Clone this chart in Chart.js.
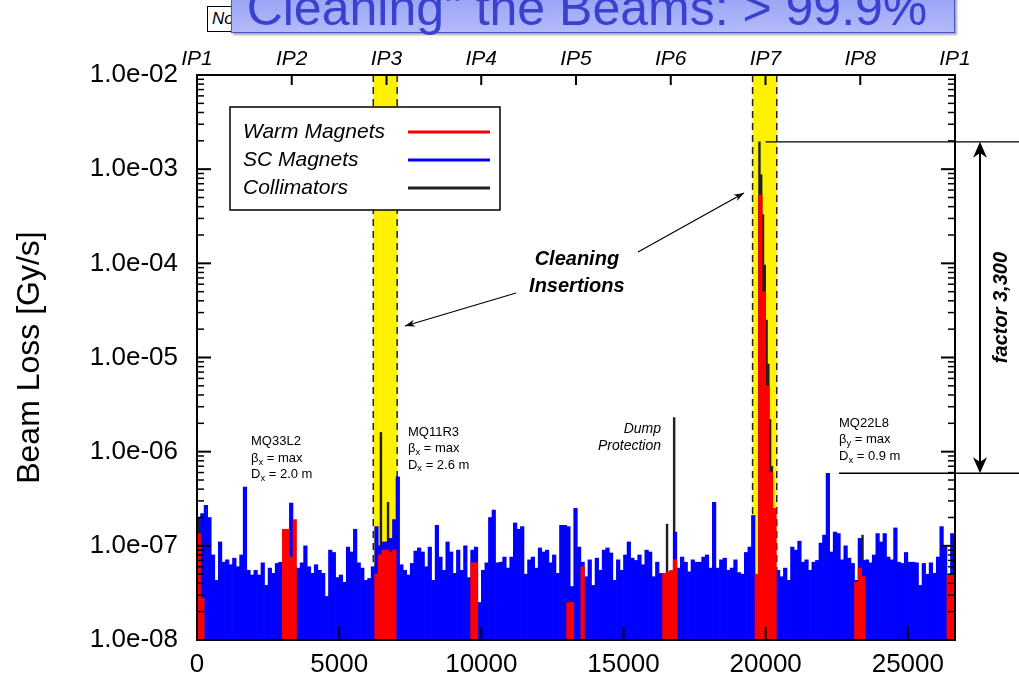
<!DOCTYPE html>
<html lang="en">
<head>
<meta charset="UTF-8">
<title>Beam Loss around the ring</title>
<script src="https://cdn.jsdelivr.net/npm/chart.js"></script>
<style>
    body {
        margin: 0;
        background: #fff;
        font-family: "Liberation Sans", Arial, sans-serif;
    }
    .page {
        position: relative;
        width: 1019px;
        height: 685px;
        overflow: hidden;
    }
    .chart-box {
        position: absolute;
        left: 0;
        top: 0;
        width: 1019px;
        height: 685px;
    }
    .note-box {
        position: absolute;
        left: 207px;
        top: 6px;
        width: 748px;
        height: 26px;
        box-sizing: border-box;
        border: 1px solid #000;
        background: #fff;
        font-style: italic;
        font-size: 17px;
        line-height: 24px;
        padding-left: 4px;
    }
    .title-box {
        position: absolute;
        left: 231px;
        top: -19px;
        width: 724px;
        height: 52px;
        box-sizing: border-box;
        border: 1px solid #4a54c8;
        background: linear-gradient(#8e99f3, #b3bbfa);
        box-shadow: 2px 2px 2px rgba(0, 0, 0, 0.35);
        color: #3b40cf;
        font-size: 50px;
        line-height: 52px;
        text-align: center;
        padding-right: 12px;
        white-space: nowrap;
    }
</style>
</head>
<body>
<div class="page">
    <div class="chart-box"><canvas id="lossChart"></canvas></div>
    <div class="note-box">No</div>
    <div class="title-box">Cleaning" the Beams: &gt; 99.9%</div>
</div>

<script>
    const FONT = "'Liberation Sans', Arial, Helvetica, sans-serif";

    const RING = 26659;       // ring circumference [m]
    const BIN = 125;          // magnet histogram bin [m]
    const COLL_BIN = 62.5;    // collimator histogram bin [m]

    const xTickValues = [0, 5000, 10000, 15000, 20000, 25000];
    const ipLabels = ['IP1', 'IP2', 'IP3', 'IP4', 'IP5', 'IP6', 'IP7', 'IP8', 'IP1'];
    const ipPositions = [0, 3332, 6665, 9997, 13330, 16662, 19994, 23327, 26659];
    const yTickValues = [1e-8, 1e-7, 1e-6, 1e-5, 1e-4, 1e-3, 1e-2];

    // cleaning insertions (IP3, IP7) [m]
    const bands = [[6200, 7040], [19540, 20390]];

    // SC magnets, one value per 125 m bin from s = 0 [Gy/s]
    const scLoss = [
        1.2e-7, 2.2e-7, 2.7e-7, 2.0e-7, 8.0e-8, 4.3e-8, 1.1e-7, 6.7e-8, 7.1e-8, 6.3e-8,
        7.4e-8, 6.0e-8, 8.0e-8, 4.2e-7, 5.5e-8, 4.9e-8, 5.5e-8, 4.9e-8, 6.6e-8, 3.8e-8,
        5.8e-8, 5.1e-8, 6.5e-8, 6.7e-8, 7.1e-8, 7.0e-8, 2.85e-7, 6.0e-8, 5.8e-8, 6.6e-8,
        1.0e-7, 6.0e-8, 5.1e-8, 6.3e-8, 5.5e-8, 5.1e-8, 2.9e-8, 9.0e-8, 8.5e-8, 4.6e-8,
        4.9e-8, 4.1e-8, 9.7e-8, 8.6e-8, 1.5e-7, 6.6e-8, 5.8e-8, 4.3e-8, 4.5e-8, 6.0e-8,
        1.6e-7, 1.0e-7, 1.1e-7, 1.1e-7, 1.2e-7, 1.9e-7, 5.4e-7, 6.3e-8, 5.5e-8, 4.9e-8,
        6.5e-8, 8.8e-8, 9.5e-8, 8.6e-8, 6.0e-8, 9.7e-8, 4.3e-8, 1.65e-7, 7.6e-8, 5.5e-8,
        1.1e-7, 8.6e-8, 5.1e-8, 9.0e-8, 5.5e-8, 1.0e-7, 4.6e-8, 9.0e-8, 9.7e-8, 2.5e-8,
        5.5e-8, 6.6e-8, 2.0e-7, 2.4e-7, 6.6e-8, 6.7e-8, 7.6e-8, 5.8e-8, 7.6e-8, 1.75e-7,
        1.5e-7, 1.6e-7, 5.0e-8, 7.1e-8, 7.6e-8, 5.8e-8, 9.5e-8, 8.6e-8, 9.0e-8, 6.6e-8,
        8.0e-8, 5.1e-8, 1.65e-7, 1.65e-7, 1.6e-7, 3.7e-8, 2.5e-7, 9.7e-8, 6.7e-8, 4.7e-8,
        7.1e-8, 3.8e-8, 7.4e-8, 5.5e-8, 9.0e-8, 9.5e-8, 8.4e-8, 4.3e-8, 7.1e-8, 5.5e-8,
        8.0e-8, 1.1e-7, 7.4e-8, 7.0e-8, 8.0e-8, 6.3e-8, 9.0e-8, 8.6e-8, 4.7e-8, 6.7e-8,
        5.1e-8, 5.0e-8, 5.0e-8, 5.0e-8, 1.4e-7, 5.8e-8, 7.6e-8, 6.7e-8, 5.3e-8, 7.1e-8,
        6.7e-8, 6.7e-8, 7.6e-8, 8.0e-8, 5.8e-8, 2.9e-7, 5.8e-8, 7.1e-8, 7.4e-8, 5.5e-8,
        5.8e-8, 7.1e-8, 5.2e-8, 5.0e-8, 8.5e-8, 9.7e-8, 2.1e-7, 3.0e-8, 3.0e-8, 3.0e-8,
        3.0e-8, 3.0e-8, 3.0e-8, 5.5e-8, 4.7e-8, 5.8e-8, 4.3e-8, 9.7e-8, 9.0e-8, 1.12e-7,
        6.7e-8, 7.1e-8, 5.5e-8, 6.7e-8, 7.0e-8, 1.07e-7, 1.3e-7, 5.9e-7, 8.6e-8, 1.4e-7,
        1.35e-7, 7.1e-8, 1.0e-7, 7.4e-8, 6.5e-8, 4.3e-8, 1.2e-7, 7.0e-8, 7.1e-8, 6.6e-8,
        8.0e-8, 1.35e-7, 1.1e-7, 1.35e-7, 7.6e-8, 7.1e-8, 1.55e-7, 6.7e-8, 6.5e-8, 8.5e-8,
        6.7e-8, 6.7e-8, 6.6e-8, 3.8e-8, 6.5e-8, 5.0e-8, 6.6e-8, 5.1e-8, 7.6e-8, 1.6e-7,
        1.0e-7, 5.0e-8, 1.35e-7
    ];

    // warm magnets: bin index (125 m) and loss [Gy/s]
    const warmBins = [0, 1, 24, 25, 26, 27, 50, 51, 52, 53, 54, 55, 77, 78, 104, 105,
        108, 131, 132, 133, 134, 157, 158, 159, 160, 161, 162, 185, 186, 187, 211, 212];
    const warmLoss = [1.35e-7, 2.8e-8, 1.5e-7, 1.5e-7, 7.6e-8, 1.9e-7, 5e-8, 8e-8, 9e-8, 9e-8,
        8.5e-8, 9e-8, 6.6e-8, 6.6e-8, 2.5e-8, 2.5e-8, 6e-8, 5.1e-8, 5.3e-8, 5.5e-8, 7.1e-8,
        5e-8, 5.3e-4, 5e-5, 5e-6, 6e-7, 2.5e-7, 4.1e-8, 5.8e-8, 4.7e-8, 4.9e-8, 4.9e-8];

    // collimators: bin index (62.5 m) and loss [Gy/s]
    const collBins = [0, 1, 2, 103, 107, 264, 268, 316, 317, 318, 319, 320, 321, 322, 323, 374];
    const collLoss = [2.0e-7, 2.0e-7, 1.5e-7, 1.6e-6, 2.9e-7, 1.7e-7, 2.3e-6, 1.95e-3, 8.7e-4,
        3.3e-4, 9.6e-5, 2.5e-5, 8.5e-6, 2.2e-6, 7e-7, 1.3e-7];

    // peak in IP7 and highest magnet loss outside the insertions
    const factorLevels = [1.95e-3, 5.9e-7];

    // text notes: position s [m], loss [Gy/s]; odd pieces are subscripts
    const magnetNotes = [
        { s: 1900, v: 1.27e-6, lines: [['MQ33L2'], ['β', 'x', ' = max'], ['D', 'x', ' = 2.0 m']] },
        { s: 7420, v: 1.62e-6, lines: [['MQ11R3'], ['β', 'x', ' = max'], ['D', 'x', ' = 2.6 m']] },
        { s: 22580, v: 2.0e-6, lines: [['MQ22L8'], ['β', 'y', ' = max'], ['D', 'x', ' = 0.9 m']] }
    ];

    function formatExp(v) {
        const e = Math.round(Math.log10(v));
        return '1.0e' + (e < 0 ? '-' : '+') + String(Math.abs(e)).padStart(2, '0');
    }

    function line(ctx, x0, y0, x1, y1) {
        ctx.beginPath();
        ctx.moveTo(x0, y0);
        ctx.lineTo(x1, y1);
        ctx.stroke();
    }

    function arrowHead(ctx, x0, y0, x1, y1, len, half) {
        const a = Math.atan2(y1 - y0, x1 - x0);
        const c = Math.cos(a), s = Math.sin(a);
        ctx.beginPath();
        ctx.moveTo(x1, y1);
        ctx.lineTo(x1 - len * c + half * s, y1 - len * s - half * c);
        ctx.lineTo(x1 - len * 0.7 * c, y1 - len * 0.7 * s);
        ctx.lineTo(x1 - len * c - half * s, y1 - len * s + half * c);
        ctx.closePath();
        ctx.fill();
    }

    function drawRuns(ctx, runs, x, y, size) {
        let cx = x;
        runs.forEach((t, k) => {
            const sub = k % 2 === 1;
            ctx.font = (sub ? size * 0.72 : size) + 'px ' + FONT;
            ctx.fillText(t, cx, y + (sub ? size * 0.28 : 0));
            cx += ctx.measureText(t).width;
        });
    }

    const decorations = {
        id: 'decorations',
        beforeDatasetsDraw(chart) {
            const { ctx, chartArea: a, scales: { x } } = chart;
            ctx.save();
            bands.forEach(([s0, s1]) => {
                const x0 = x.getPixelForValue(s0), x1 = x.getPixelForValue(s1);
                ctx.fillStyle = '#fff200';
                ctx.fillRect(x0, a.top, x1 - x0, a.bottom - a.top);
                ctx.strokeStyle = '#231f20';
                ctx.lineWidth = 1.5;
                ctx.setLineDash([7, 5]);
                line(ctx, x0, a.top, x0, a.bottom);
                line(ctx, x1, a.top, x1, a.bottom);
                ctx.setLineDash([]);
            });
            ctx.restore();
        },
        afterDatasetsDraw(chart) {
            const { ctx, chartArea: a, scales: { x, xTop, y } } = chart;
            ctx.save();
            ctx.strokeStyle = '#000';
            ctx.fillStyle = '#000';

            // frame and inward ticks
            ctx.lineWidth = 2;
            ctx.strokeRect(a.left, a.top, a.right - a.left, a.bottom - a.top);
            xTickValues.forEach(v => {
                const px = x.getPixelForValue(v);
                line(ctx, px, a.bottom, px, a.bottom - 13);
            });
            ipPositions.forEach(v => {
                const px = xTop.getPixelForValue(v);
                line(ctx, px, a.top, px, a.top + 10);
            });
            yTickValues.forEach((v, k) => {
                const py = y.getPixelForValue(v);
                ctx.lineWidth = 2;
                line(ctx, a.left, py, a.left + 14, py);
                line(ctx, a.right, py, a.right - 14, py);
                if (k < yTickValues.length - 1) {
                    ctx.lineWidth = 1.5;
                    for (let m = 2; m <= 9; m++) {
                        const pm = y.getPixelForValue(v * m);
                        line(ctx, a.left, pm, a.left + 7, pm);
                        line(ctx, a.right, pm, a.right - 7, pm);
                    }
                }
            });

            // legend box
            const bx = a.left + 33, by = a.top + 32, bw = 270, bh = 103;
            ctx.fillStyle = '#fff';
            ctx.fillRect(bx, by, bw, bh);
            ctx.lineWidth = 1.5;
            ctx.strokeRect(bx, by, bw, bh);
            ctx.font = 'italic 21px ' + FONT;
            ctx.textAlign = 'left';
            ctx.textBaseline = 'middle';
            chart.data.datasets.forEach((ds, k) => {
                const ry = by + 25 + k * 28;
                ctx.fillStyle = '#000';
                ctx.fillText(ds.label, bx + 13, ry);
                ctx.strokeStyle = ds.backgroundColor;
                ctx.lineWidth = 3;
                line(ctx, bx + 178, ry, bx + 260, ry);
            });

            // magnet notes
            ctx.fillStyle = '#000';
            ctx.strokeStyle = '#000';
            magnetNotes.forEach(n => {
                const nx = x.getPixelForValue(n.s), ny = y.getPixelForValue(n.v);
                n.lines.forEach((runs, k) => drawRuns(ctx, runs, nx, ny + k * 16.5, 13));
            });

            // dump protection
            ctx.font = 'italic 14px ' + FONT;
            ctx.textAlign = 'right';
            const dx = x.getPixelForValue(16320), dy = y.getPixelForValue(1.74e-6);
            ctx.fillText('Dump', dx, dy);
            ctx.fillText('Protection', dx, dy + 17);

            // cleaning insertions with arrows
            ctx.font = 'italic bold 20px ' + FONT;
            ctx.textAlign = 'center';
            const cx = x.getPixelForValue(13360), cy = y.getPixelForValue(1.11e-4);
            ctx.fillText('Cleaning', cx, cy);
            ctx.fillText('Insertions', cx, cy + 27);
            ctx.lineWidth = 1.2;
            [[11220, 4.84e-5, 7315, 2.16e-5], [15510, 1.32e-4, 19238, 5.58e-4]].forEach(([s0, v0, s1, v1]) => {
                const x0 = x.getPixelForValue(s0), y0 = y.getPixelForValue(v0);
                const x1 = x.getPixelForValue(s1), y1 = y.getPixelForValue(v1);
                line(ctx, x0, y0, x1, y1);
                arrowHead(ctx, x0, y0, x1, y1, 10, 3.5);
            });

            // factor between peak and magnet losses
            const yHi = y.getPixelForValue(factorLevels[0]);
            const yLo = y.getPixelForValue(factorLevels[1]);
            ctx.lineWidth = 1.3;
            line(ctx, x.getPixelForValue(20000), yHi, chart.width, yHi);
            line(ctx, x.getPixelForValue(22580), yLo, chart.width, yLo);
            const ax = a.right + 25;
            ctx.lineWidth = 2;
            line(ctx, ax, yHi + 8, ax, yLo - 8);
            arrowHead(ctx, ax, yLo, ax, yHi, 16, 7);
            arrowHead(ctx, ax, yHi, ax, yLo, 16, 7);
            ctx.save();
            ctx.translate(a.right + 46, (yHi + yLo) / 2);
            ctx.rotate(-Math.PI / 2);
            ctx.font = 'italic bold 20px ' + FONT;
            ctx.textAlign = 'center';
            ctx.fillText('factor 3,300', 0, 0);
            ctx.restore();

            ctx.restore();
        }
    };

    const barStyle = {
        type: 'bar',
        grouped: false,
        barPercentage: 1,
        categoryPercentage: 1,
        borderWidth: 0
    };

    Chart.defaults.font.family = FONT;
    Chart.defaults.color = '#000';

    new Chart(document.getElementById('lossChart'), {
        type: 'bar',
        data: {
            datasets: [
                Object.assign({}, barStyle, {
                    label: 'Warm Magnets',
                    data: warmBins.map((b, k) => ({ x: (b + 0.5) * BIN, y: warmLoss[k] })),
                    backgroundColor: '#ff0000',
                    xAxisID: 'x',
                    order: 0
                }),
                Object.assign({}, barStyle, {
                    label: 'SC Magnets',
                    data: scLoss.map((v, i) => ({ x: (i + 0.5) * BIN, y: v })),
                    backgroundColor: '#0000ff',
                    xAxisID: 'x',
                    order: 1
                }),
                Object.assign({}, barStyle, {
                    label: 'Collimators',
                    data: collBins.map((b, k) => ({ x: (b + 0.5) * COLL_BIN, y: collLoss[k] })),
                    backgroundColor: '#231f20',
                    xAxisID: 'xColl',
                    order: 2
                })
            ]
        },
        options: {
            responsive: true,
            maintainAspectRatio: false,
            animation: false,
            events: [],
            layout: { padding: { left: 0, right: 64, top: 0, bottom: 0 } },
            plugins: {
                legend: { display: false },
                tooltip: { enabled: false }
            },
            scales: {
                x: {
                    type: 'linear',
                    position: 'bottom',
                    offset: false,
                    min: 0,
                    max: RING,
                    afterBuildTicks: s => { s.ticks = xTickValues.map(v => ({ value: v })); },
                    afterFit: s => { s.height = 45; },
                    ticks: {
                        font: { size: 26 },
                        color: '#000',
                        padding: 9,
                        maxRotation: 0,
                        autoSkip: false,
                        callback: v => String(v)
                    },
                    grid: { display: false, drawTicks: false, offset: false },
                    border: { display: false }
                },
                xTop: {
                    type: 'linear',
                    position: 'top',
                    offset: false,
                    min: 0,
                    max: RING,
                    afterBuildTicks: s => { s.ticks = ipPositions.map(v => ({ value: v })); },
                    afterFit: s => { s.height = 75; },
                    ticks: {
                        font: { size: 21, style: 'italic' },
                        color: '#000',
                        padding: 3,
                        maxRotation: 0,
                        autoSkip: false,
                        callback: (v, i) => ipLabels[i]
                    },
                    grid: { display: false, drawTicks: false, offset: false },
                    border: { display: false }
                },
                xColl: {
                    type: 'linear',
                    display: false,
                    offset: false,
                    min: 0,
                    max: RING,
                    grid: { offset: false }
                },
                y: {
                    type: 'logarithmic',
                    position: 'left',
                    min: 1e-8,
                    max: 1e-2,
                    afterBuildTicks: s => { s.ticks = yTickValues.map(v => ({ value: v })); },
                    afterFit: s => { s.width = 197; },
                    ticks: {
                        font: { size: 26 },
                        color: '#000',
                        padding: 19,
                        autoSkip: false,
                        callback: v => formatExp(v)
                    },
                    title: {
                        display: true,
                        text: 'Beam Loss [Gy/s]',
                        font: { size: 32 },
                        color: '#000',
                        padding: { top: 11, bottom: 0 }
                    },
                    grid: { display: false, drawTicks: false },
                    border: { display: false }
                }
            }
        },
        plugins: [decorations]
    });
</script>
</body>
</html>
